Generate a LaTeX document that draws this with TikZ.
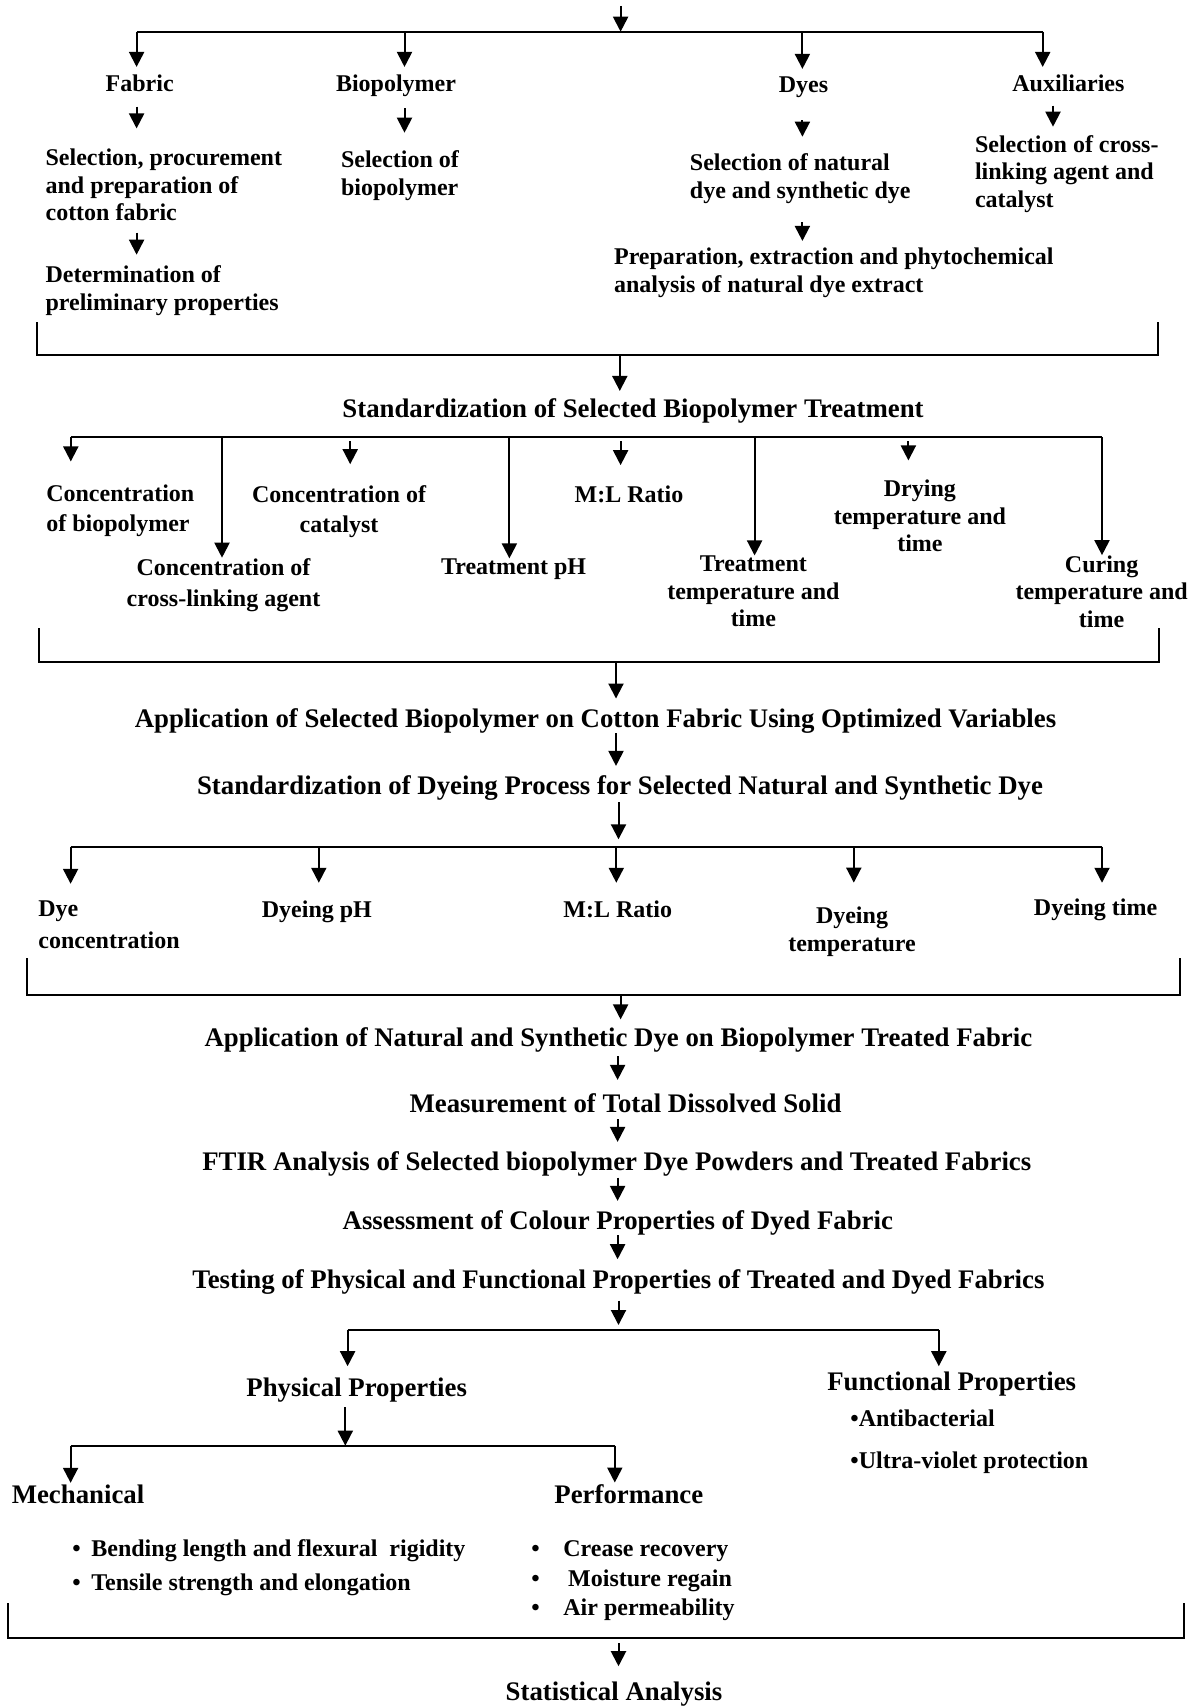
\documentclass[tikz,border=0pt]{standalone}
\usepackage{fontspec}
\setmainfont{Liberation Serif}
\usetikzlibrary{arrows.meta}
\newcommand\bulbox[1]{\makebox[#1][l]{•}}
\begin{document}
\begin{tikzpicture}[x=0.5pt,y=-0.5pt,
  every node/.style={font=\fontsize{12}{13.75}\selectfont\bfseries, inner xsep=0pt, inner ysep=4pt},
  lbl/.style={anchor=base, align=center},
  lbll/.style={anchor=base west, align=left},
  big/.style={font=\fontsize{13.4}{15}\selectfont\bfseries},
  ln/.style={line width=1pt},
  arr/.style={line width=1pt, -{Triangle[length=7.5pt,width=7.5pt]}},
]
\useasboundingbox (0,0) rectangle (1190,1707);

% ---------- top level ----------
\coordinate (top) at (620.6,6);
\coordinate (jtop) at (620.6,31.7);
\coordinate (jfab) at (136.6,31.7);
\coordinate (jbio) at (404.5,31.7);
\coordinate (jdye) at (802.4,31.7);
\coordinate (jaux) at (1042.7,31.7);

\node[lbl] (fabric) at (139.7,92) {Fabric};
\node[lbl] (biopol) at (396,92) {Biopolymer};
\node[lbl] (dyes) at (803.5,93) {Dyes};
\node[lbl] (aux) at (1068.4,92) {Auxiliaries};
\node[lbll] (selfab) at (45.2,220.7) {Selection, procurement\\and preparation of\\cotton fabric};
\node[lbll] (detfab) at (45.2,310) {Determination of\\preliminary properties};
\node[lbll] (selbio) at (340.6,195) {Selection of\\biopolymer};
\node[lbll] (seldye) at (689.5,198) {Selection of natural\\dye and synthetic dye};
\node[lbll] (prepdye) at (613.7,292) {Preparation, extraction and phytochemical\\analysis of natural dye extract};
\node[lbll] (selaux) at (974.6,207) {Selection of cross-\\linking agent and\\catalyst};

\draw[arr] (top) -- (jtop);
\draw[ln] (jfab) -- (jaux);
\draw[arr] (jfab) -- (jfab |- fabric.north);
\draw[arr] (jbio) -- (jbio |- biopol.north);
\draw[arr] (jdye) -- (jdye |- dyes.north);
\draw[arr] (jaux) -- (jaux |- aux.north);
\draw[arr, shorten <=3pt, shorten >=6.1pt] (jfab |- fabric.south) -- (jfab |- selfab.north);
\draw[arr, shorten <=1.65pt, shorten >=1.25pt] (selfab.south -| jfab) -- (detfab.north -| jfab);
\draw[arr, shorten <=1.4pt, shorten >=4.75pt] (jbio |- biopol.south) -- (jbio |- selbio.north);
\draw[arr, shorten <=6.9pt, shorten >=4.25pt] (jdye |- dyes.south) -- (jdye |- seldye.north);
\draw[arr, shorten <=5.4pt, shorten >=-0.75pt] (jdye |- seldye.south) -- (jdye |- prepdye.north);
\draw[arr, shorten <=2.5pt] ([xshift=-7.7pt]aux.south) -- ([xshift=-7.7pt]aux.south |- selaux.north);

% ---------- bracket 1 ----------
\coordinate (b1a) at (37,322);
\coordinate (b1b) at (37,355);
\coordinate (b1c) at (1157.5,355);
\coordinate (b1d) at (1157.5,322);
\coordinate (b1m) at (619.8,355);
\draw[ln] (b1a) -- (b1b) -- (b1c) -- (b1d);
\node[lbl, big] (std1) at (633,417) {Standardization of Selected Biopolymer Treatment};
\draw[arr, shorten >=-0.6pt] (b1m) -- (b1m |- std1.north);

% ---------- bus 2 ----------
\coordinate (j2a) at (70.8,437.3);
\coordinate (j2b) at (222,437.3);
\coordinate (j2c) at (350.2,437.3);
\coordinate (j2d) at (509.4,437.3);
\coordinate (j2e) at (620.6,437.3);
\coordinate (j2f) at (754.6,437.3);
\coordinate (j2g) at (908.4,437.3);
\coordinate (j2h) at (1102,437.3);
\draw[ln] (j2a) -- (j2h);

\node[lbll] (c1) at (45.9,531.7) {Concentration\\[1.25pt]of biopolymer};
\node[lbl] (c2) at (223.5,606.5) {Concentration of\\[1.75pt]cross-linking agent};
\node[lbl] (c3) at (339,532.4) {Concentration of\\[1.1pt]catalyst};
\node[lbl] (tph) at (513.6,574) {Treatment pH};
\node[lbl] (ml1) at (629,502.7) {M:L Ratio};
\node[lbl] (tt) at (753.4,626.7) {Treatment\\temperature and\\time};
\node[lbl] (dr) at (919.9,551.7) {Drying\\temperature and\\time};
\node[lbl] (cu) at (1101.6,627) {Curing\\temperature and\\time};

\draw[arr, shorten >=7.6pt] (j2a) -- (j2a |- c1.north);
\draw[arr, shorten >=-3.75pt] (j2b) -- (j2b |- c2.north);
\draw[arr, shorten <=1.9pt, shorten >=6.6pt] (j2c) -- (j2c |- c3.north);
\draw[arr, shorten >=-4.25pt] (j2d) -- (j2d |- tph.north);
\draw[arr, shorten <=1.9pt, shorten >=6.25pt] (j2e) -- (j2e |- ml1.north);
\draw[arr, shorten >=-3.95pt] (j2f) -- (j2f |- tt.north);
\draw[arr, shorten <=1.9pt, shorten >=5.6pt] (j2g) -- (j2g |- dr.north);
\draw[arr, shorten >=-4.1pt] (j2h) -- (j2h |- cu.north);

% ---------- bracket 2 ----------
\coordinate (b2a) at (39,628);
\coordinate (b2b) at (39,662);
\coordinate (b2c) at (1159,662);
\coordinate (b2d) at (1159,628);
\coordinate (b2m) at (616,662);
\draw[ln] (b2a) -- (b2b) -- (b2c) -- (b2d);
\node[lbl, big] (app1) at (595.5,727) {Application of Selected Biopolymer on Cotton Fabric Using Optimized Variables};
\node[lbl, big] (std2) at (620,794) {Standardization of Dyeing Process for Selected Natural and Synthetic Dye};
\draw[arr, shorten >=0.6pt] (b2m) -- (b2m |- app1.north);
\draw[arr, shorten <=-4.05pt, shorten >=0.4pt] (b2m |- app1.south) -- (b2m |- std2.north);

% ---------- bus 3 ----------
\coordinate (j3m) at (618.5,846.7);
\coordinate (j3a) at (70.6,846.7);
\coordinate (j3b) at (318.8,846.7);
\coordinate (j3c) at (616.3,846.7);
\coordinate (j3d) at (853.8,846.7);
\coordinate (j3e) at (1102,846.7);
\draw[arr, shorten <=-3.05pt, shorten >=3.7pt] (j3m |- std2.south) -- (j3m);
\draw[ln] (j3a) -- (j3e);

\node[lbll] (dc) at (38,948.3) {Dye\\[2pt]concentration};
\node[lbl] (dph) at (316.9,917.7) {Dyeing pH};
\node[lbl] (ml2) at (617.8,917) {M:L Ratio};
\node[lbl] (dt) at (852,951.7) {Dyeing\\[0.5pt]temperature};
\node[lbl] (dti) at (1095.6,915) {Dyeing time};

\draw[arr, shorten >=4.45pt] (j3a) -- (j3a |- dc.north);
\draw[arr, shorten >=4.95pt] (j3b) -- (j3b |- dph.north);
\draw[arr, shorten >=4.6pt] (j3c) -- (j3c |- ml2.north);
\draw[arr, shorten >=7.75pt] (j3d) -- (j3d |- dt.north);
\draw[arr, shorten >=3.6pt] (j3e) -- (j3e |- dti.north);

% ---------- bracket 3 ----------
\coordinate (b3a) at (26.6,958);
\coordinate (b3b) at (26.6,994.5);
\coordinate (b3c) at (1180,994.5);
\coordinate (b3d) at (1180,958);
\coordinate (b3m) at (620.6,994.5);
\coordinate (cx) at (617.6,1000);
\draw[ln] (b3a) -- (b3b) -- (b3c) -- (b3d);

\node[lbl, big] (app2) at (618.4,1046.7) {Application of Natural and Synthetic Dye on Biopolymer Treated Fabric};
\node[lbl, big] (meas) at (625.5,1112.7) {Measurement of Total Dissolved Solid};
\node[lbl, big] (ftir) at (616.8,1170) {FTIR Analysis of Selected biopolymer Dye Powders and Treated Fabrics};
\node[lbl, big] (assess) at (617.8,1229.3) {Assessment of Colour Properties of Dyed Fabric};
\node[lbl, big] (testing) at (618.4,1288.3) {Testing of Physical and Functional Properties of Treated and Dyed Fabrics};

\draw[arr] (b3m) -- (b3m |- app2.north);
\draw[arr, shorten <=-2.25pt, shorten >=2.75pt] (cx |- app2.south) -- (cx |- meas.north);
\draw[arr, shorten <=-1.2pt, shorten >=0.4pt] (cx |- meas.south) -- (cx |- ftir.north);
\draw[arr, shorten <=-3.25pt, shorten >=0.55pt] (cx |- ftir.south) -- (cx |- assess.north);
\draw[arr, shorten <=-4.05pt, shorten >=0.9pt] (cx |- assess.south) -- (cx |- testing.north);

% ---------- bus 4 ----------
\coordinate (j4m) at (618.5,1330);
\coordinate (j4a) at (347.6,1330);
\coordinate (j4b) at (938.8,1330);
\draw[arr, shorten <=-1.05pt, shorten >=2.5pt] (j4m |- testing.south) -- (j4m);
\draw[ln] (j4a) -- (j4b);

\node[lbl, big] (phys) at (356.7,1396.7) {Physical Properties};
\node[lbl, big] (func) at (951.7,1390) {Functional Properties};
\node[lbll] (fb1) at (850,1426.7) {•Antibacterial};
\node[lbll] (fb2) at (850,1468.3) {•Ultra-violet protection};
\draw[arr, shorten >=1.75pt] (j4a) -- (j4a |- phys.north);
\draw[arr, shorten >=-1.6pt] (j4b) -- (j4b |- func.north);

% ---------- bus 5 ----------
\coordinate (j5m) at (345.3,1445.7);
\coordinate (j5a) at (70.6,1445.7);
\coordinate (j5b) at (614.8,1445.7);
\draw[arr, shorten <=-1.75pt] (j5m |- phys.south) -- (j5m);
\draw[ln] (j5a) -- (j5b);

\node[lbll, big] (mech) at (11.4,1503.3) {Mechanical};
\node[lbl, big] (perf) at (628.8,1503) {Performance};
\draw[arr, shorten >=-3.25pt] (j5a) -- (j5a |- mech.north);
\draw[arr, shorten >=-3.4pt] (j5b) -- (j5b |- perf.north);

\node[lbll] (mb1) at (72,1556.7) {\bulbox{9.5pt}Bending length and flexural\ \ rigidity};
\node[lbll] (mb2) at (72,1590) {\bulbox{9.5pt}Tensile strength and elongation};
\node[lbll] (pb1) at (531,1556.7) {\bulbox{16pt}Crease recovery};
\node[lbll] (pb2) at (531,1586.7) {\bulbox{18.4pt}Moisture regain};
\node[lbll] (pb3) at (531,1615) {\bulbox{16pt}Air permeability};

% ---------- bracket 4 ----------
\coordinate (b4a) at (7.6,1603);
\coordinate (b4b) at (7.6,1638);
\coordinate (b4c) at (1184,1638);
\coordinate (b4d) at (1184,1603);
\coordinate (b4m) at (618.5,1638);
\draw[ln] (b4a) -- (b4b) -- (b4c) -- (b4d);
\node[lbl, big] (stat) at (614,1700) {Statistical Analysis};
\draw[arr, shorten <=2.5pt, shorten >=3.4pt] (b4m) -- (b4m |- stat.north);
\end{tikzpicture}
\end{document}
